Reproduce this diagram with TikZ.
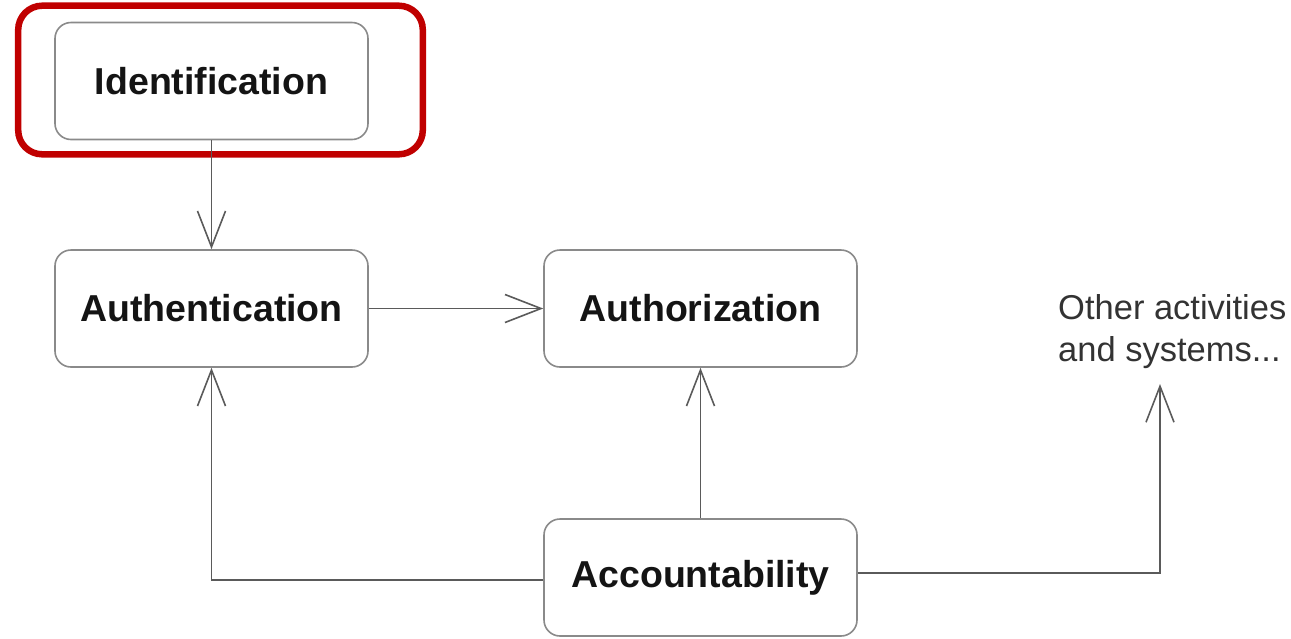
\documentclass[tikz,border=0pt]{standalone}
\usepackage{fontspec}
\setmainfont{Liberation Sans}
\usetikzlibrary{arrows.meta,calc}
\definecolor{boxline}{HTML}{8A8A8A}
\definecolor{conn}{HTML}{5A5A5A}
\definecolor{hilite}{HTML}{C00000}
\tikzset{
  stagebox/.style={draw=boxline, line width=1.6pt, rounded corners=16pt, fill=white,
    minimum width=313pt, minimum height=117pt, inner sep=0pt,
    font=\fontsize{37.5}{42}\selectfont\bfseries, text=black!92},
  conn/.style={draw=conn, line width=1.6pt,
    -{Straight Barb[length=36pt,width=28pt,line width=1.6pt]}},
  plain/.style={font=\fontsize{34.5}{42}\selectfont, text=black!80, align=left, inner sep=0pt}
}
\begin{document}
\begin{tikzpicture}[x=1pt,y=-1pt]
\useasboundingbox (0,0) rectangle (1291,638);
\node[stagebox] (ident) at (211.5,81) {Identification};
\node[stagebox] (authn) at (211.5,308.5) {Authentication};
\node[stagebox] (authz) at (700.5,308.5) {Authorization};
\node[stagebox] (acc) at (700.5,577.5) {Accountability};
\node[plain, anchor=north west] (other) at (1058,294) {Other activities\\and systems...};
\coordinate (otherin) at (1160,384);
\draw[draw=hilite, line width=6.5pt, rounded corners=24pt] ($(ident.south west)+(-36,14)$) rectangle ($(ident.north east)+(54,-16)$);
\draw[conn] (ident) -- (authn);
\draw[conn] (authn) -- (authz);
\draw[conn] (acc) -- (authz);
\draw[conn] ($(acc.west)+(0,2.5)$) -| (authn.south);
\draw[conn] ($(acc.east)+(0,-4.5)$) -| (otherin);
\end{tikzpicture}
\end{document}
